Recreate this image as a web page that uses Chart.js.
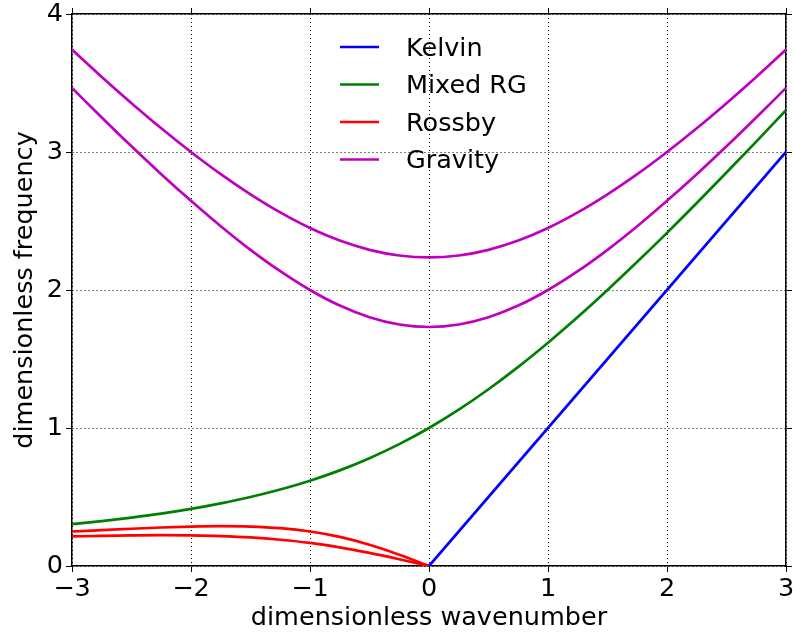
<!DOCTYPE html>
<html>
<head>
<meta charset="utf-8">
<script src="https://cdn.jsdelivr.net/npm/chart.js@4.4.0/dist/chart.umd.min.js"></script>
<style>
  body { margin: 0; background: #fff; }
  #wrap { width: 793px; height: 635px; position: relative; }
</style>
</head>
<body>
<div id="wrap"><canvas id="chart"></canvas></div>
<script>
// wavenumbers sampled along the curves
var k = [-3, -2.75, -2.5, -2.25, -2, -1.75, -1.5, -1.25, -1, -0.75, -0.5, -0.25, 0,
         0.25, 0.5, 0.75, 1, 1.25, 1.5, 1.75, 2, 2.25, 2.5, 2.75, 3];
var kNeg = [-3, -2.75, -2.5, -2.25, -2, -1.75, -1.5, -1.25, -1, -0.75, -0.5, -0.25, 0];
var kKelvin = [0, 3];

var kelvin = [0, 3];
var mixedRG = [0.303, 0.325, 0.351, 0.380, 0.414, 0.454, 0.500, 0.554, 0.618, 0.693, 0.781, 0.883, 1.000,
               1.133, 1.281, 1.443, 1.618, 1.804, 2.000, 2.204, 2.414, 2.630, 2.851, 3.075, 3.303];
var rossby1 = [0.250, 0.260, 0.270, 0.279, 0.286, 0.289, 0.286, 0.274, 0.250, 0.211, 0.154, 0.082, 0];
var rossby2 = [0.214, 0.219, 0.222, 0.224, 0.222, 0.217, 0.207, 0.190, 0.167, 0.135, 0.095, 0.049, 0];
var gravity1 = [3.464, 3.250, 3.041, 2.839, 2.646, 2.462, 2.291, 2.136, 2.000, 1.887, 1.803, 1.750, 1.732,
                1.750, 1.803, 1.887, 2.000, 2.136, 2.291, 2.462, 2.646, 2.839, 3.041, 3.250, 3.464];
var gravity2 = [3.742, 3.544, 3.354, 3.172, 3.000, 2.839, 2.693, 2.562, 2.449, 2.358, 2.291, 2.250, 2.236,
                2.250, 2.291, 2.358, 2.449, 2.562, 2.693, 2.839, 3.000, 3.172, 3.354, 3.544, 3.742];

var xTickLabels = ['\u22123', '\u22122', '\u22121', '0', '1', '2', '3'];
var yTickLabels = ['0', '1', '2', '3', '4'];

var FONT = "'DejaVu Sans', sans-serif";
var FSIZE = 25.5;

function pts(xs, ys) {
  return xs.map(function (x, i) { return {x: x, y: ys[i]}; });
}

function line(label, xs, ys, color) {
  return {
    label: label,
    data: pts(xs, ys),
    borderColor: color,
    backgroundColor: color,
    borderWidth: 2.7,
    pointRadius: 0,
    fill: false,
    cubicInterpolationMode: 'monotone'
  };
}

var datasets = [
  line('Kelvin', kKelvin, kelvin, '#0000ff'),
  line('Mixed RG', k, mixedRG, '#008000'),
  line('Rossby', kNeg, rossby1, '#ff0000'),
  line('Rossby', kNeg, rossby2, '#ff0000'),
  line('Gravity', k, gravity1, '#bf00bf'),
  line('Gravity', k, gravity2, '#bf00bf')
];

// legend in the upper middle of the plot, one row per label
var innerLegend = {
  id: 'innerLegend',
  afterDatasetsDraw: function (chart) {
    var ctx = chart.ctx;
    var area = chart.chartArea;
    var seen = {};
    var row = 0;
    ctx.save();
    ctx.font = FSIZE + 'px ' + FONT;
    ctx.textBaseline = 'middle';
    ctx.textAlign = 'left';
    chart.data.datasets.forEach(function (ds) {
      if (seen[ds.label]) return;
      seen[ds.label] = true;
      var y = area.top + 33 + row * 37.5;
      ctx.strokeStyle = ds.borderColor;
      ctx.lineWidth = 2.7;
      ctx.beginPath();
      ctx.moveTo(area.left + 268, y);
      ctx.lineTo(area.left + 307, y);
      ctx.stroke();
      ctx.fillStyle = '#000';
      ctx.fillText(ds.label, area.left + 334, y + 2);
      row++;
    });
    ctx.restore();
  }
};

function noPad(s) {
  s.paddingLeft = 0; s.paddingRight = 0; s.paddingTop = 0; s.paddingBottom = 0;
}

var edge = {color: '#000', width: 1.5};

new Chart(document.getElementById('chart'), {
  type: 'line',
  data: {datasets: datasets},
  plugins: [innerLegend],
  options: {
    responsive: true,
    maintainAspectRatio: false,
    animation: false,
    layout: {padding: 0},
    plugins: {legend: {display: false}, tooltip: {enabled: false}},
    scales: {
      x: {
        type: 'linear', position: 'bottom', min: -3, max: 3,
        border: {color: '#000', width: 1.5, dash: [1, 3]},
        grid: {color: '#000', lineWidth: 1, tickLength: 6, tickColor: '#000', tickWidth: 1},
        ticks: {
          stepSize: 1, padding: 2, color: '#000', font: {family: FONT, size: FSIZE},
          maxRotation: 0,
          callback: function (v) { return xTickLabels[v + 3]; }
        },
        title: {display: true, text: 'dimensionless wavenumber', color: '#000',
                font: {family: FONT, size: FSIZE}, padding: {top: 0, bottom: 1}},
        afterFit: function (s) { s.height = 69; noPad(s); }
      },
      x2: {
        type: 'linear', position: 'top', min: -3, max: 3,
        border: edge,
        grid: {drawOnChartArea: false, tickLength: 6, tickColor: '#000', tickWidth: 1},
        ticks: {stepSize: 1, display: false},
        afterFit: function (s) { s.height = 14; noPad(s); }
      },
      y: {
        type: 'linear', position: 'left', min: 0, max: 4,
        border: {color: '#000', width: 1.5, dash: [1, 3]},
        grid: {color: '#000', lineWidth: 1, tickLength: 6, tickColor: '#000', tickWidth: 1},
        ticks: {
          stepSize: 1, padding: 3, color: '#000', font: {family: FONT, size: FSIZE},
          callback: function (v) { return yTickLabels[v]; }
        },
        title: {display: true, text: 'dimensionless frequency', color: '#000',
                font: {family: FONT, size: FSIZE}, padding: {top: 10, bottom: 0}},
        afterFit: function (s) { s.width = 72; noPad(s); }
      },
      y2: {
        type: 'linear', position: 'right', min: 0, max: 4,
        border: edge,
        grid: {drawOnChartArea: false, tickLength: 6, tickColor: '#000', tickWidth: 1},
        ticks: {stepSize: 1, display: false},
        afterFit: function (s) { s.width = 7; noPad(s); }
      }
    }
  }
});
</script>
</body>
</html>
